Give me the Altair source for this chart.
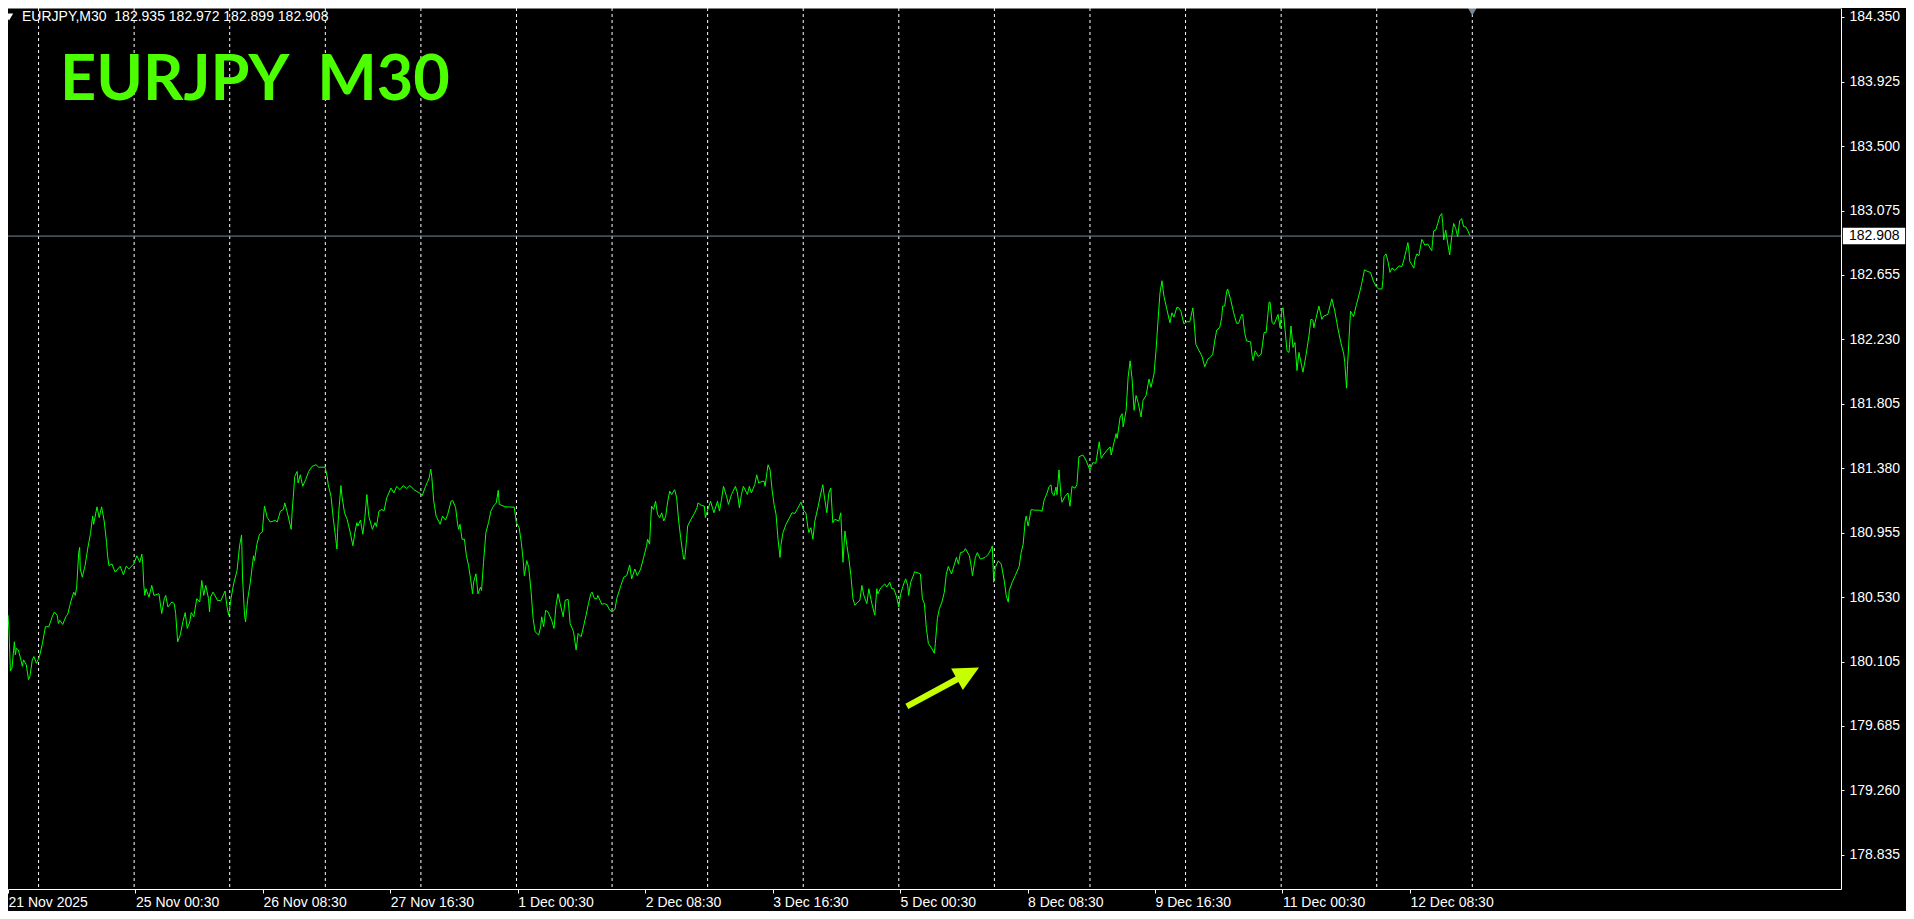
import altair as alt
import pandas as pd

# ---- price series (bar position, close), M30 bars ----
seg_a = [(0, 180.413), (0.5, 180.315), (1.2, 180.047), (2, 180.065), (3.2, 180.238), (3.7, 180.152),
         (4.2, 180.195), (5.2, 180.184), (6.7, 180.108), (7.2, 180.076), (7.8, 180.119), (9.2, 180.086),
         (10.3, 179.989), (11, 180.010), (12.2, 180.119), (13, 180.141), (14.3, 180.097), (15.8, 180.141),
         (17.3, 180.228), (18.8, 180.337), (20.5, 180.337), (22.2, 180.402), (23.3, 180.434), (24.7, 180.413),
         (25.3, 180.358), (26, 180.380), (27.5, 180.352), (29, 180.402), (30, 180.419), (31.5, 180.500),
         (33, 180.565), (33.8, 180.543), (34.5, 180.598), (35.5, 180.826), (36, 180.859), (36.3, 180.717),
         (37.3, 180.663), (38.7, 180.739), (40, 180.848), (41.5, 180.957), (42.5, 181.065), (43, 181.011),
         (44.7, 181.126), (45.8, 181.055), (47, 181.126), (48.3, 181.033), (49.5, 180.891), (50, 180.804),
         (50.7, 180.739), (52.2, 180.750), (53.8, 180.696), (56.3, 180.735), (58, 180.678), (59.3, 180.735),
         (60.7, 180.717), (63.2, 180.750), (64.7, 180.804), (66.2, 180.761), (67.2, 180.815), (67.7, 180.750),
         (68.2, 180.609), (68.7, 180.543), (69.3, 180.587), (70.8, 180.532), (72.2, 180.609), (73.3, 180.543),
         (75.8, 180.554), (77.2, 180.424), (78.5, 180.522), (79.2, 180.543), (80.3, 180.467), (82.3, 180.500),
         (83.5, 180.489), (84.2, 180.424), (85.2, 180.238), (86.5, 180.282), (87.8, 180.369), (89, 180.430),
         (90, 180.326), (91.3, 180.369), (92, 180.430), (93.3, 180.402), (94.8, 180.522), (96.3, 180.500),
         (97.3, 180.641), (98.3, 180.543), (99.3, 180.609), (100.7, 180.522), (101.2, 180.434), (101.7, 180.532),
         (103, 180.565), (105.3, 180.508), (107, 180.511), (109, 180.572), (110, 180.467), (110.8, 180.413),
         (112, 180.522), (113.3, 180.619), (115, 180.706), (116.3, 180.870), (117.3, 180.941), (117.8, 180.652),
         (118.8, 180.413), (119.3, 180.369), (120.3, 180.511), (121.7, 180.630), (123.3, 180.804), (123.8, 180.772),
         (125, 180.880), (126.3, 180.946), (127.7, 180.961), (128.8, 181.131), (130.2, 181.055), (131.7, 181.026),
         (134.3, 181.037), (135.2, 181.026), (136.8, 181.098), (138.3, 181.109), (139, 181.152), (140.3, 181.087),
         (142.2, 180.978), (142.7, 181.098), (143.3, 181.196), (144, 181.326), (145.2, 181.359), (145.7, 181.283),
         (146.8, 181.337), (148, 181.261), (149.5, 181.305), (151, 181.359), (152.7, 181.392), (154.7, 181.403)]

seg_b = [(156, 181.387), (159.2, 181.387), (160.3, 181.326), (160.8, 181.272), (162.2, 181.196), (163.3, 181.055),
         (164.5, 180.924), (165.2, 180.848), (165.5, 180.957), (166, 181.076), (167.2, 181.266), (167.7, 181.196),
         (169, 181.087), (170.3, 181.044), (171.7, 180.967), (173.2, 180.870), (174.2, 180.957), (175.2, 181.022),
         (175.7, 181.000), (177, 181.039), (178.2, 180.946), (179.2, 181.055), (180.2, 181.207), (181.2, 181.065),
         (183, 180.978), (184.3, 181.022), (185, 180.996), (186.3, 181.098), (187.8, 181.109), (188.8, 181.098),
         (190.2, 181.185), (192.3, 181.250), (193.8, 181.217), (195.2, 181.261), (196.8, 181.239), (198.5, 181.266),
         (200.2, 181.246), (201.8, 181.266), (204.3, 181.235), (207.3, 181.213), (208, 181.200), (209.7, 181.261),
         (210.8, 181.294), (211.5, 181.316), (212.3, 181.374), (212.8, 181.326), (213.8, 181.163), (215, 181.065),
         (217, 181.011), (218.2, 181.065), (219.7, 181.039), (220.8, 181.076), (222.5, 181.163), (223.3, 181.168),
         (224.8, 181.120), (225.8, 181.011), (226.3, 180.978), (227, 181.011), (228, 180.913), (229.2, 180.913),
         (230.2, 180.804), (231.3, 180.739), (232.3, 180.652), (233.3, 180.554), (233.8, 180.630), (235, 180.685),
         (236, 180.554), (237.3, 180.598), (237.8, 180.576), (238.8, 180.761), (240, 180.957), (241.3, 181.022),
         (242.5, 181.098), (243.8, 181.131), (245.2, 181.152), (246.2, 181.235), (246.7, 181.142), (249.7, 181.126),
         (254.2, 181.124), (255.3, 181.022), (256.7, 180.989), (257.8, 180.891), (258.8, 180.761), (259.3, 180.673),
         (260.5, 180.772), (261.5, 180.728), (262.7, 180.565), (263.7, 180.391), (264.7, 180.304), (266.5, 180.282),
         (267.5, 180.337), (268, 180.402), (269, 180.337), (270, 180.445), (271.2, 180.434), (273, 180.380),
         (274.2, 180.326), (275.2, 180.478), (276.2, 180.554), (277.3, 180.489), (278.8, 180.402), (279.8, 180.511),
         (281.3, 180.517), (282.3, 180.358), (284, 180.304), (285.3, 180.184), (286.3, 180.293), (287.8, 180.271),
         (289, 180.337), (290.3, 180.413), (291.5, 180.489), (292.7, 180.554), (293.3, 180.565), (294.5, 180.522),
         (295.7, 180.522), (296.2, 180.543), (298.2, 180.485), (299.5, 180.489), (300.8, 180.482), (302.2, 180.445),
         (303.5, 180.434), (304.8, 180.452)]

seg_c = [(305.7, 180.522), (307.8, 180.609), (309.2, 180.663), (310.7, 180.673), (312.2, 180.743), (313.2, 180.652),
         (314.8, 180.717), (316, 180.673), (317.7, 180.717), (319.2, 180.793), (320.7, 180.870), (321.2, 180.913),
         (322.2, 180.880), (322.8, 181.044), (323.2, 181.131), (324.2, 181.109), (325.2, 181.163), (326.2, 181.076),
         (327.3, 181.055), (328.3, 181.087), (329.3, 181.033), (330.3, 181.065), (331.3, 181.163), (332.3, 181.229),
         (333.3, 181.207), (334.8, 181.239), (335.8, 181.185), (336.8, 181.033), (337.8, 180.924), (338.8, 180.826),
         (339.3, 180.782), (339.8, 180.782), (340.8, 180.913), (341.3, 181.000), (342.8, 181.039), (344.7, 181.083),
         (346, 181.120), (346.5, 181.152), (348.3, 181.135), (349.7, 181.131), (350.2, 181.055), (351.2, 181.098),
         (352.8, 181.163), (354.5, 181.087), (356.3, 181.163), (357.3, 181.098), (358.3, 181.174), (359.3, 181.261),
         (360.8, 181.196), (361.8, 181.142), (363.3, 181.207), (365.3, 181.261), (366.3, 181.217), (367.3, 181.120),
         (368.3, 181.207), (369.3, 181.261), (371.3, 181.207), (372.3, 181.261), (373.3, 181.217), (375, 181.272),
         (376, 181.337), (377, 181.283), (378.7, 181.294), (379.7, 181.294), (380.2, 181.261), (381.2, 181.359),
         (381.7, 181.403), (382.7, 181.370), (383.7, 181.239), (384.7, 181.142), (385.7, 181.076), (386.7, 180.913),
         (387.7, 180.793), (388.2, 180.880), (389.2, 180.957), (390.7, 181.011), (392.2, 181.048), (393.7, 181.087),
         (395.2, 181.083), (396.3, 181.109), (398.2, 181.157), (399.7, 181.098), (400.7, 181.087), (401.7, 180.989),
         (402.2, 180.957), (403.2, 180.989), (404.2, 180.913), (405.2, 181.033), (406.7, 181.120), (408.2, 181.217),
         (409.2, 181.272), (409.7, 181.217), (411.2, 181.087), (412.2, 181.217), (413.2, 181.250), (414.2, 181.022),
         (415.2, 181.044), (417.2, 181.033), (418.2, 181.087), (419.3, 180.761), (420.3, 180.967), (421.3, 180.870),
         (422.3, 180.782), (423.3, 180.673), (424.3, 180.522), (425.3, 180.478), (426.8, 180.500), (427.8, 180.511),
         (428.8, 180.609), (429.8, 180.543), (431.3, 180.489), (432.3, 180.587), (433.8, 180.489), (435.3, 180.413),
         (436.3, 180.587), (436.8, 180.554), (438.3, 180.593), (440.3, 180.619), (441.3, 180.598), (442.8, 180.630),
         (443.8, 180.587), (444.8, 180.587), (446.3, 180.532), (447.3, 180.467), (448.3, 180.554), (449.8, 180.619),
         (450.8, 180.652), (451.8, 180.609), (452.3, 180.543), (453.3, 180.630), (454.8, 180.678)]

seg_d = [(455.2, 180.699), (457.2, 180.690), (458.2, 180.684), (459.2, 180.521), (460.2, 180.488), (461.2, 180.325),
         (462.2, 180.227), (463.7, 180.199), (465.2, 180.162), (465.7, 180.227), (466.7, 180.390), (467.7, 180.455),
         (469, 180.499), (470.2, 180.564), (471.2, 180.684), (472.2, 180.734), (473.8, 180.684), (475.3, 180.749),
         (476.3, 180.793), (477.3, 180.749), (478.3, 180.825), (479.8, 180.830), (480.8, 180.851), (482.8, 180.804),
         (483.8, 180.727), (484.3, 180.673), (485.8, 180.793), (486.8, 180.825), (488.3, 180.782), (490.7, 180.793),
         (492.3, 180.814), (493.8, 180.851), (494.3, 180.869), (495, 180.630), (495.8, 180.727), (497.3, 180.771),
         (498.8, 180.749), (500.3, 180.640), (501.3, 180.542), (502.3, 180.499), (502.8, 180.575), (504.3, 180.630),
         (505.8, 180.673), (507.8, 180.734), (508.8, 180.825), (509.8, 180.880), (510.8, 181.032), (511.3, 181.065),
         (512.3, 180.999), (513.8, 181.108), (515.8, 181.104), (517.8, 181.104), (519.3, 181.097), (520.3, 181.169),
         (521.8, 181.217), (522.8, 181.260), (523.8, 181.271), (524.3, 181.217), (525.3, 181.199), (526.3, 181.256),
         (526.8, 181.206), (527.8, 181.369), (528.8, 181.195), (529.3, 181.156), (530.8, 181.195), (532.3, 181.217),
         (533.3, 181.130), (534.3, 181.260), (535.8, 181.249), (536.8, 181.271), (537.8, 181.456), (539.8, 181.467),
         (541.3, 181.434), (543.3, 181.369), (544.8, 181.417), (546.3, 181.413), (548, 181.554), (549, 181.445),
         (550, 181.467), (552, 181.500), (553.5, 181.521), (554, 181.467), (555.5, 181.554), (556.5, 181.608),
         (557, 181.576), (558.5, 181.717), (559.5, 181.739), (560, 181.652), (561.5, 181.761), (562.5, 181.978),
         (563.5, 182.087), (564.5, 181.967), (565.5, 181.761), (566.5, 181.859), (567.5, 181.815), (569, 181.717),
         (570, 181.826), (571.5, 181.859), (573, 181.967), (574, 181.913), (575.5, 182.000), (576.5, 182.152),
         (577.5, 182.348), (578.5, 182.533), (579.5, 182.614), (580.5, 182.511), (582, 182.424), (583.5, 182.337),
         (584.5, 182.403), (585.5, 182.374), (587, 182.440), (588, 182.435), (589, 182.413), (590.5, 182.331),
         (592, 182.344), (593.5, 182.344), (595, 182.435), (595.5, 182.370), (596.5, 182.196), (598, 182.157),
         (599.5, 182.120), (601, 182.048), (602.5, 182.098), (604, 182.113), (605, 182.131)]

seg_e = [(606, 182.218), (607, 182.290), (608.5, 182.305), (609.5, 182.371), (610, 182.447), (611, 182.447),
         (612, 182.545), (612.5, 182.560), (614, 182.490), (615.5, 182.403), (617, 182.334), (618, 182.334),
         (619.5, 182.392), (620, 182.392), (621, 182.273), (622, 182.218), (624, 182.212), (624.8, 182.121),
         (625.3, 182.088), (626.3, 182.153), (627.8, 182.116), (629.3, 182.131), (630.8, 182.273), (631.8, 182.273),
         (633.3, 182.473), (633.8, 182.473), (634.8, 182.338), (635.8, 182.327), (637.8, 182.392), (638.8, 182.305),
         (639.8, 182.425), (640.3, 182.436), (641.3, 182.295), (642.3, 182.153), (643.3, 182.142), (644.3, 182.316),
         (645.3, 182.175), (646.3, 182.208), (647.3, 182.023), (648.3, 182.142), (650.3, 182.012), (651.8, 182.121),
         (653.3, 182.251), (654.3, 182.360), (655.3, 182.355), (655.8, 182.305), (656.8, 182.364), (658.3, 182.447),
         (659.8, 182.360), (660.8, 182.382), (662.8, 182.392), (664.3, 182.469), (664.8, 182.495), (666.3, 182.414),
         (667.8, 182.305), (669.3, 182.208), (670.8, 182.131), (671.3, 182.077), (672.2, 181.907), (672.7, 182.055),
         (673.7, 182.295), (674.2, 182.414), (675.7, 182.377), (677.2, 182.458), (678.7, 182.534), (679.7, 182.588),
         (681.2, 182.686), (682.7, 182.675), (684.2, 182.669), (685.7, 182.610), (687.2, 182.573), (688.3, 182.560),
         (690, 182.560), (690.5, 182.621), (691, 182.773), (692, 182.791), (693, 182.741), (694, 182.669),
         (695, 182.697), (696.5, 182.682), (698.5, 182.712), (700, 182.708), (701, 182.751), (702, 182.806),
         (703, 182.865), (703.5, 182.817), (704, 182.741), (705, 182.719), (706, 182.697), (706.5, 182.751),
         (707.5, 182.791), (708.5, 182.778), (710, 182.886), (711.5, 182.849), (713, 182.856), (714.5, 182.821),
         (715, 182.812), (715.5, 182.886), (716, 182.943), (717, 182.947), (718, 182.991), (719, 183.039),
         (720, 183.056), (720.5, 182.991), (721, 182.882), (722, 182.947), (723, 182.860), (724, 182.784),
         (725, 182.904), (726, 182.991), (727, 182.958), (728, 182.904), (729, 183.008), (730, 183.023),
         (731, 182.969), (732, 182.969), (733, 182.947), (734, 182.915), (734.5, 182.908)]

# ---- axis content ----
tick_bars = [0, 64, 128, 192, 256, 320, 384, 448, 512, 576, 640, 704]
tick_labels = ["21 Nov 2025", "25 Nov 00:30", "26 Nov 08:30", "27 Nov 16:30", "1 Dec 00:30",
               "2 Dec 08:30", "3 Dec 16:30", "5 Dec 00:30", "8 Dec 08:30", "9 Dec 16:30",
               "11 Dec 00:30", "12 Dec 08:30"]
price_ticks = [184.350, 183.925, 183.500, 183.075, 182.655, 182.230, 181.805,
               181.380, 180.955, 180.530, 180.105, 179.685, 179.260, 178.835]
day_start_bars = [15.35, 63.35, 111.35, 159.35, 207.35, 255.35, 303.35, 351.35,
                  399.35, 447.35, 495.35, 543.35, 591.35, 639.35, 687.35, 735.35]

symbol = "EURJPY"
timeframe = "M30"
last_ohlc = [182.935, 182.972, 182.899, 182.908]
arrow_bar, arrow_price = [469.5], [179.941]

# ---- layout / style ----
W, H = 1833, 881
FONT = "Liberation Sans"
xs = alt.Scale(domain=[0, 920.5], nice=False, zero=False)
ys = alt.Scale(domain=[178.611, 184.409], nice=False, zero=False)

df = pd.DataFrame(seg_a + seg_b + seg_c + seg_d + seg_e, columns=["bar", "price"])

label_expr = ("[" + ",".join("'%s'" % t for t in tick_labels) + "][indexof(["
              + ",".join(str(b) for b in tick_bars) + "], datum.value)]")

x_axis = alt.Axis(values=tick_bars, labelExpr=label_expr, title=None, grid=False,
                  domainColor="white", tickColor="white", tickSize=4, labelColor="white",
                  labelFont=FONT, labelFontSize=14, labelAlign="left", labelBaseline="top",
                  labelPadding=2, labelFlush=False, labelOverlap=False)
y_axis = alt.Axis(orient="right", values=price_ticks, format=".3f", title=None, grid=False,
                  domainColor="white", tickColor="white", tickSize=3, labelPadding=5,
                  labelColor="white", labelFont=FONT, labelFontSize=14,
                  labelOverlap=False, labelFlush=False)

X = alt.X("bar:Q", scale=xs, axis=x_axis)
Y = alt.Y("price:Q", scale=ys, axis=y_axis)

line = alt.Chart(df).mark_line(color="#00ff00", strokeWidth=1, clip=True).encode(
    x=X, y=Y, order="bar:Q")

grid = alt.Chart(pd.DataFrame({"bar": day_start_bars})).mark_rule(
    color="white", strokeDash=[3, 3], strokeWidth=1
).encode(x=X)

close_df = pd.DataFrame({"price": [last_ohlc[3]], "label": ["%.3f" % last_ohlc[3]]})
price_line = alt.Chart(close_df).mark_rule(color="#778899", strokeWidth=1).encode(y=Y)

tag_box = alt.Chart(close_df).mark_point(
    shape="M-1,-0.266L1,-0.266L1,0.266L-1,0.266Z", filled=True, color="white",
    opacity=1, size=3881, strokeWidth=0
).encode(x=alt.value(W + 33), y=Y)
tag_text = alt.Chart(close_df).mark_text(
    align="left", baseline="middle", color="black", font=FONT, fontSize=14
).encode(x=alt.value(W + 8), y=Y, text="label:N")

arrow = alt.Chart(pd.DataFrame({"bar": arrow_bar, "price": arrow_price})).mark_point(
    shape="M-1,-0.075L0.39,-0.075L0.39,-0.3L1,0L0.39,0.3L0.39,0.075L-1,0.075Z",
    filled=True, color="#c6ff00", opacity=1, size=6724, angle=331.6, strokeWidth=0
).encode(x=X, y=Y)

shift_marker = alt.Chart(pd.DataFrame({"bar": [day_start_bars[-1]]})).mark_point(
    shape="triangle-down", filled=True, color="#778899", opacity=1, size=110, strokeWidth=0
).encode(x=X, y=alt.value(3))

header_df = pd.DataFrame({"t": ["%s,%s\u00a0\u00a0%s" % (symbol, timeframe,
                                 " ".join("%.3f" % v for v in last_ohlc))]})
header_tri = alt.Chart(header_df).mark_point(
    shape="triangle-down", filled=True, color="white", opacity=1, size=70, strokeWidth=0
).encode(x=alt.value(1), y=alt.value(9))
header = alt.Chart(header_df).mark_text(
    align="left", baseline="middle", color="white", font=FONT, fontSize=14
).encode(x=alt.value(14), y=alt.value(9), text="t:N")

title_df = pd.DataFrame({"t": ["%s\u00a0\u00a0%s" % (symbol, timeframe)]})
title = alt.Chart(title_df).mark_text(
    align="left", baseline="alphabetic", color="#4cff00", font="Lato", fontWeight="bold",
    fontSize=63
).encode(x=alt.value(52), y=alt.value(92), text="t:N")

top_border = alt.Chart(header_df).mark_rule(color="white", strokeWidth=1).encode(
    x=alt.value(0), x2=alt.value(W), y=alt.value(0))

chart = alt.layer(
    grid, price_line, line, tag_box, tag_text, arrow, shift_marker,
    header_tri, header, title, top_border
).properties(
    width=W, height=H,
    autosize=alt.AutoSizeParams(type="none"),
    padding={"left": 0, "top": 0, "right": 65, "bottom": 22},
    background="#000000",
).configure_view(stroke=None)

chart.save("out.html", embed_options={"renderer": "svg", "actions": False})
